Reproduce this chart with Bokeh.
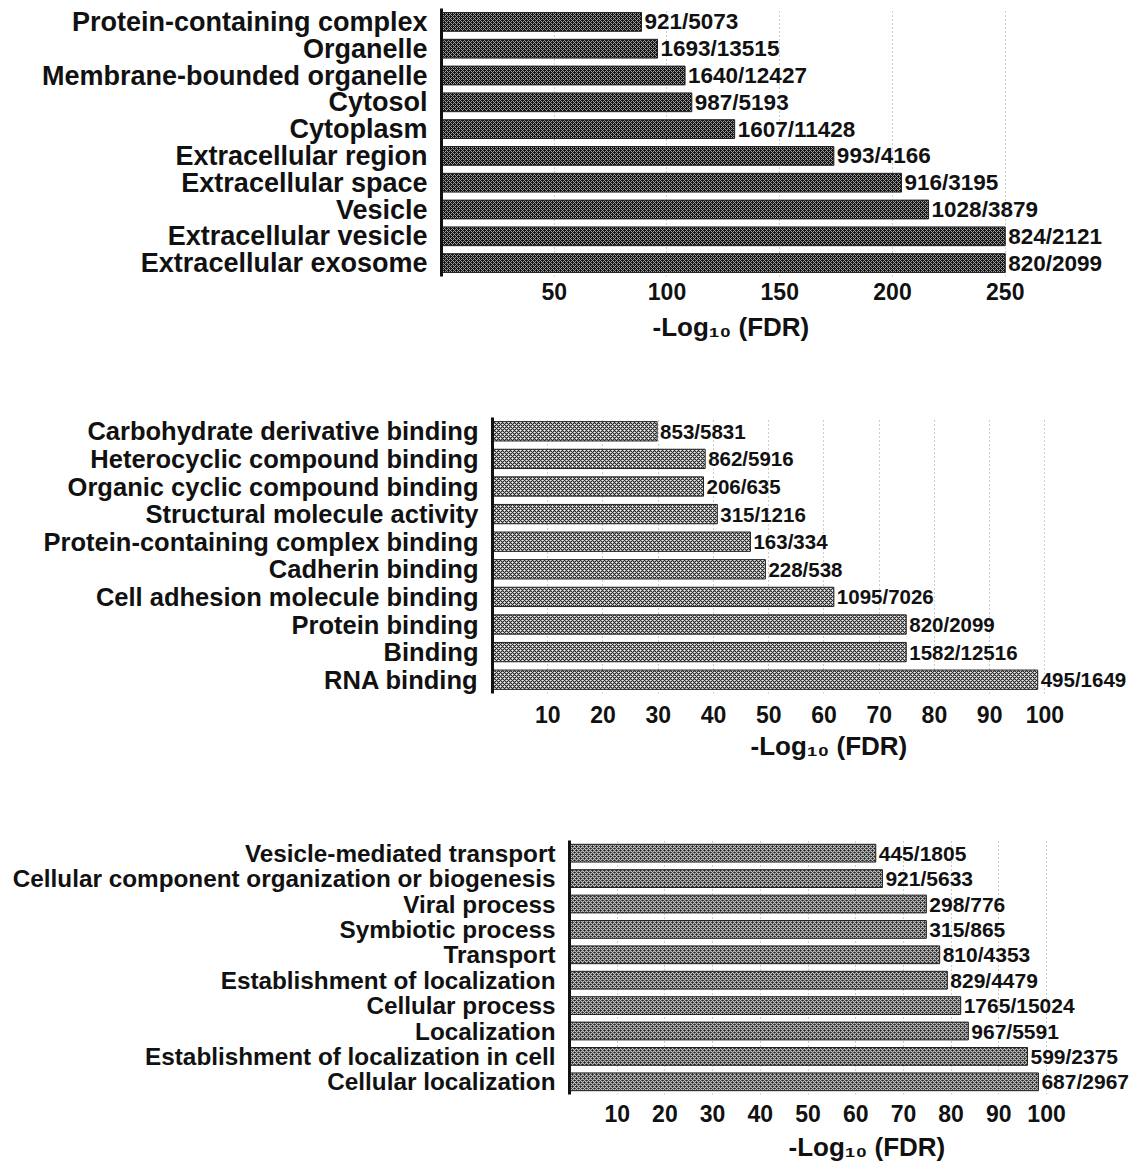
from bokeh.plotting import figure
from bokeh.models import ColumnDataSource, FixedTicker, Title
from bokeh.embed import file_html
from bokeh.resources import INLINE
from bokeh.core.properties import value

# ---------------- data ----------------
cc_terms = ["Protein-containing complex", "Organelle", "Membrane-bounded organelle",
            "Cytosol", "Cytoplasm", "Extracellular region", "Extracellular space",
            "Vesicle", "Extracellular vesicle", "Extracellular exosome"]
cc_values = [88.7, 95.8, 108, 111, 130, 174, 204, 216, 250, 250]
cc_counts = ["921/5073", "1693/13515", "1640/12427", "987/5193", "1607/11428",
             "993/4166", "916/3195", "1028/3879", "824/2121", "820/2099"]
cc_ticks = [50, 100, 150, 200, 250]

mf_terms = ["Carbohydrate derivative binding", "Heterocyclic compound binding",
            "Organic cyclic compound binding", "Structural molecule activity",
            "Protein-containing complex binding", "Cadherin binding",
            "Cell adhesion molecule binding", "Protein binding", "Binding", "RNA binding"]
mf_values = [29.8, 38.5, 38.2, 40.7, 46.7, 49.4, 61.8, 74.9, 74.9, 98.7]
mf_counts = ["853/5831", "862/5916", "206/635", "315/1216", "163/334", "228/538",
             "1095/7026", "820/2099", "1582/12516", "495/1649"]
mf_ticks = [10, 20, 30, 40, 50, 60, 70, 80, 90, 100]

bp_terms = ["Vesicle-mediated transport", "Cellular component organization or biogenesis",
            "Viral process", "Symbiotic process", "Transport",
            "Establishment of localization", "Cellular process", "Localization",
            "Establishment of localization in cell", "Cellular localization"]
bp_values = [64.2, 65.6, 74.8, 74.8, 77.6, 79.2, 82.0, 83.6, 96.0, 98.3]
bp_counts = ["445/1805", "921/5633", "298/776", "315/865", "810/4353", "829/4479",
             "1765/15024", "967/5591", "599/2375", "687/2967"]
bp_ticks = [10, 20, 30, 40, 50, 60, 70, 80, 90, 100]

x_title = "-Log\u2081\u2080 (FDR)"

FONT = "Liberation Sans"


def make_chart(terms, vals, counts, ticks, xmax, frame_w, frame_h, left, top, bottom,
               label_size, count_size, fill, hatch_col, hatch_w, hatch_s,
               tick_standoff, title_offset, title_standoff):
    p = figure(y_range=list(reversed(terms)), x_range=(0, xmax),
               frame_width=frame_w, frame_height=frame_h,
               min_border_left=left, min_border_right=0,
               min_border_top=top, min_border_bottom=bottom,
               output_backend="svg", toolbar_location=None)
    p.outline_line_color = None
    p.background_fill_color = "white"
    p.border_fill_color = "white"

    src = ColumnDataSource(dict(term=terms, val=vals, cnt=counts))
    p.hbar(y="term", right="val", left=0, height=0.7, source=src,
           fill_color=fill, line_color="#222222", line_width=1,
           hatch_pattern="diagonal_cross", hatch_color=hatch_col,
           hatch_weight=hatch_w, hatch_scale=hatch_s)
    p.text(x="val", y="term", text="cnt", source=src, x_offset=3,
           text_baseline="middle", text_align="left",
           text_font=value(FONT), text_font_style="bold",
           text_font_size=f"{count_size}px", text_color="#111111")

    # x axis
    p.xaxis.ticker = FixedTicker(ticks=ticks)
    p.xaxis.axis_line_color = None
    p.xaxis.major_tick_line_color = None
    p.xaxis.minor_tick_line_color = None
    p.xaxis.major_tick_out = 0
    p.xaxis.major_label_standoff = tick_standoff
    p.xaxis.major_label_text_font = FONT
    p.xaxis.major_label_text_font_style = "bold"
    p.xaxis.major_label_text_font_size = "23px"
    p.xaxis.major_label_text_color = "#111111"

    # y axis
    p.yaxis.axis_line_color = "#111111"
    p.yaxis.axis_line_width = 3
    p.yaxis.major_tick_line_color = None
    p.yaxis.minor_tick_line_color = None
    p.yaxis.major_label_standoff = 8
    p.yaxis.major_label_text_font = FONT
    p.yaxis.major_label_text_font_style = "bold"
    p.yaxis.major_label_text_font_size = f"{label_size}px"
    p.yaxis.major_label_text_color = "#111111"

    p.ygrid.grid_line_color = None
    p.xgrid.grid_line_color = "#9a9a9a"
    p.xgrid.grid_line_dash = "1 3"
    p.xgrid.grid_line_width = 1

    # axis title  -Log10 (FDR)
    p.add_layout(Title(text=x_title, align="left", offset=title_offset,
                       standoff=title_standoff, text_font=FONT,
                       text_font_style="bold", text_font_size="26px",
                       text_color="#111111"), "below")
    return p


p1 = make_chart(cc_terms, cc_values, cc_counts, cc_ticks, 302, 681, 268, 441, 8, 124,
                27, 22.5, "#141414", "#a0a0a0", 1.0, 4, 6, 211, 15)
p2 = make_chart(mf_terms, mf_values, mf_counts, mf_ticks, 115.5, 638, 276, 492, 17, 127,
                25.5, 20.5, "#f0f0f0", "#222222", 1.1, 4, 12, 258, 7)
p3 = make_chart(bp_terms, bp_values, bp_counts, bp_ticks, 117.6, 561, 254, 569, 20, 74,
                24.3, 21, "#1e1e1e", "#c8c8c8", 1.1, 4, 10, 219, 11)

open("out.html", "w").write(file_html([p1, p2, p3], INLINE))
